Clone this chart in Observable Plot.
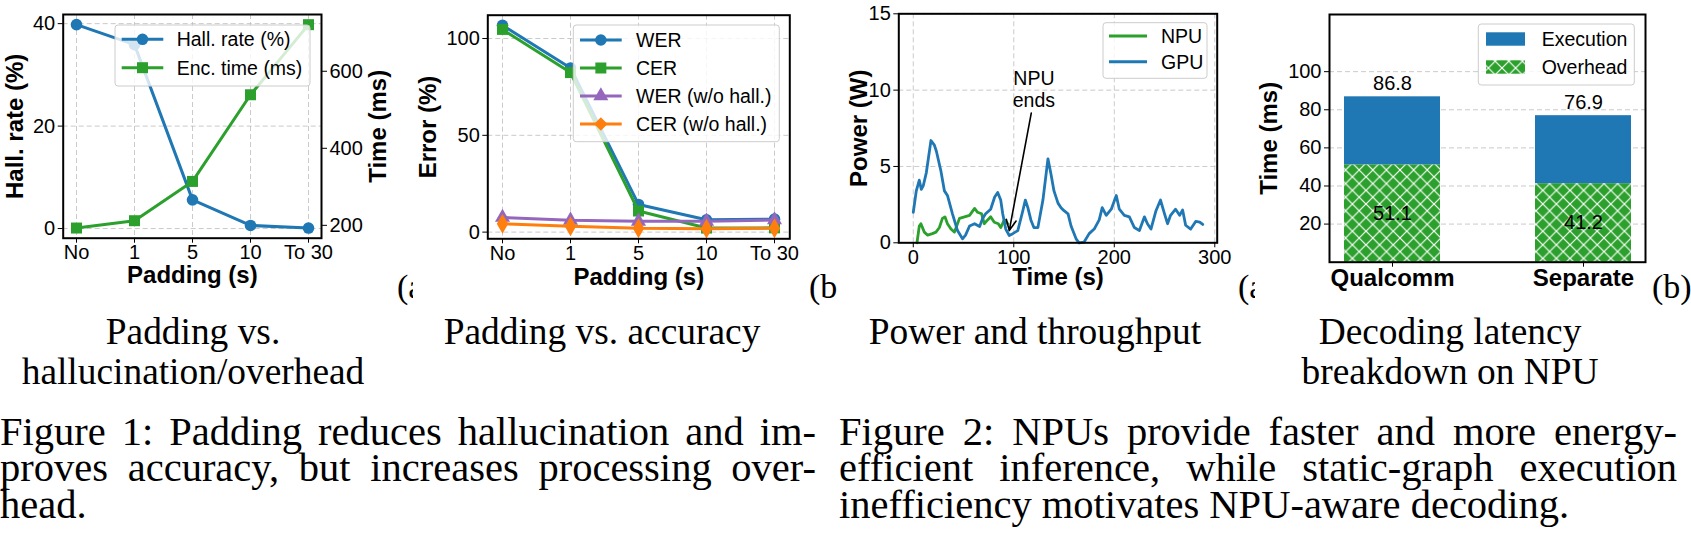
<!DOCTYPE html>
<html><head><meta charset="utf-8">
<script src="https://cdn.jsdelivr.net/npm/d3@7"></script>
<script src="https://cdn.jsdelivr.net/npm/@observablehq/plot@0.6"></script>
<style>
html,body{margin:0;padding:0;background:#fff;}
body{width:1691px;height:549px;position:relative;overflow:hidden;}
.panel{position:absolute;top:0;}
.panel svg{max-width:none;overflow:visible;}
.serif{position:absolute;font-family:"Liberation Serif","Times New Roman",serif;color:#000;white-space:nowrap;}
.clip{position:absolute;overflow:hidden;}
</style></head><body>
<div id="p1" class="panel" style="left:0px"></div>
<div id="p2" class="panel" style="left:400px"></div>
<div id="p3" class="panel" style="left:830px"></div>
<div id="p4" class="panel" style="left:1230px"></div>
<script>
// ---------------- data ----------------
const padCats = ["No", "1", "5", "10", "To 30"];
const hallRate = [39.8, 35.9, 5.6, 0.6, 0.1];
const encTime = [193, 212, 314, 539, 721];
const encTicks = [200, 400, 600];

const wer = [106.8, 84.8, 14.3, 6.4, 6.7];
const cer = [104.7, 82.4, 10.9, 2.1, 2.2];
const werNoHall = [7.6, 6.1, 5.6, 5.6, 6.3];
const cerNoHall = [4.3, 3.0, 2.0, 1.8, 2.0];

const npuTrace = [[3.7,0],[6,1.1],[7.6,1.25],[11,0.7],[14.3,0.5],[19,0.6],[22.6,0.7],[26,1.0],[29,1.6],[31.5,1.7],[34,1.25],[37.5,0.9],[41,0.7],[44,1.25],[46,1.6],[51,1.7],[56,1.8],[61,2.25],[64,2.0],[68,1.9],[70.6,1.25],[74,1.5],[77,1.7],[80.6,1.35],[84.6,1.25],[87,1.0],[90.6,1.5],[94,1.25]];
const gpuTrace = [[0,2.0],[3,3.4],[6,4.1],[8,3.5],[10,3.75],[13,4.6],[17.6,6.7],[21,6.4],[23,6.0],[27.5,4.7],[31,3.4],[34,3.1],[39,1.9],[44,0.8],[49,0.26],[52,0.5],[56,1.1],[61,1.25],[66,1.07],[69,1.6],[72,1.9],[77,2.2],[81,3.0],[84,3.3],[87,2.8],[89,1.9],[92,0.9],[95.5,0.48],[99,0.6],[104,0.8],[109,2.1],[111.5,2.8],[114,2.3],[117,1.5],[120,1.0],[124,1.0],[129,2.8],[134,5.5],[137,4.5],[140,3.4],[144,2.6],[147,2.3],[150,2.1],[154,1.9],[157,1.1],[162,0.26],[165,0],[170,0.05],[175,0.6],[180,0.9],[185,1.5],[188,2.3],[192,1.8],[197,2.2],[202,3.1],[205,2.2],[210,1.8],[215,1.7],[220,1.0],[225,0.8],[230,1.7],[233,1.25],[236.5,0.9],[241.5,2.1],[246,2.8],[250,1.9],[253,1.25],[256,1.8],[261,2.2],[265,1.8],[268,2.15],[271,1.15],[276,0.9],[281,1.4],[285,1.35],[288,1.2]];
const npuAnnotation = {label: "NPU\nends", textT: 120, textP: 10.1, tailT: 117.4, tailP: 8.5, headT: 95.5, headP: 0.8};

const platforms = ["Qualcomm", "Separate"];
const overheadMs = [51.1, 41.2];
const totalMs = [86.8, 76.9];

const subCaptions = [["Padding vs.", "hallucination/overhead"], ["Padding vs. accuracy"], ["Power and throughput"], ["Decoding latency", "breakdown on NPU"]];
const fig1Lines = ["Figure 1: Padding reduces hallucination and im-", "proves accuracy, but increases processing over-", "head."];
const fig2Lines = ["Figure 2: NPUs provide faster and more energy-", "efficient inference, while static-graph execution", "inefficiency motivates NPU-aware decoding."];

// ---------------- style ----------------
const FONT = "'Liberation Sans', Arial, Helvetica, sans-serif";
const BLUE = "#1f77b4", GREEN = "#2ca02c", PURPLE = "#9467bd", ORANGE = "#ff7f0e";
const GRID = {stroke: "#b8b8b8", strokeOpacity: 0.75, strokeDasharray: "5,3", strokeWidth: 1};
const TICK = 20, LEG = 19.5, LAB = 24;
const baseStyle = {fontFamily: FONT, fontSize: TICK + "px", color: "#000", background: "transparent", overflow: "visible"};
const mplDomain = v => { const lo = d3.min(v), hi = d3.max(v), m = (hi - lo) * 0.05; return [lo - m, hi + m]; };
const symbolOf = {circle: d3.symbolCircle, square: d3.symbolSquare, triangle: d3.symbolTriangle, diamond: d3.symbolDiamond2};
const labelY = (txt, anchor, dx) => Plot.text([txt], {frameAnchor: anchor, dx, rotate: -90, textAnchor: "middle", lineAnchor: "middle", fontWeight: "bold", fontSize: LAB});
const labelX = (txt, dy) => Plot.text([txt], {frameAnchor: "bottom", dy, textAnchor: "middle", lineAnchor: "middle", fontWeight: "bold", fontSize: LAB});

function legendMark(box, items) {
  return () => {
    const g = d3.create("svg:g");
    g.append("rect").attr("x", box.x).attr("y", box.y).attr("width", box.w).attr("height", box.h)
      .attr("rx", 3).attr("fill", "white").attr("fill-opacity", 0.8).attr("stroke", "#cccccc").attr("stroke-width", 1);
    for (const it of items) {
      if (it.patch) {
        g.append("rect").attr("x", box.hx0).attr("y", it.y - 6.7).attr("width", box.hx1 - box.hx0).attr("height", 13.4).attr("fill", it.patch);
      } else {
        g.append("line").attr("x1", box.hx0).attr("x2", box.hx1).attr("y1", it.y).attr("y2", it.y)
          .attr("stroke", it.color).attr("stroke-width", it.width || 3);
        if (it.symbol) g.append("path").attr("d", d3.symbol(symbolOf[it.symbol], it.size)())
          .attr("transform", `translate(${(box.hx0 + box.hx1) / 2},${it.y})`).attr("fill", it.color);
      }
      g.append("text").attr("x", box.tx).attr("y", it.y).attr("dy", "0.35em").attr("font-size", LEG)
        .attr("text-anchor", "start").attr("font-family", FONT).attr("fill", "#000").text(it.label);
    }
    return g.node();
  };
}

// ---------------- panel 1 ----------------
{
  const rows = padCats.map((c, i) => ({c, hall: hallRate[i], enc: encTime[i]}));
  const yL = mplDomain(hallRate), yR = mplDomain(encTime);
  const r2l = d3.scaleLinear().domain(yR).range(yL);
  const chart = Plot.plot({
    width: 420, height: 300, marginLeft: 62.7, marginRight: 99, marginTop: 14, marginBottom: 62.3,
    style: baseStyle,
    x: {type: "point", domain: padCats, padding: 0.2, label: null},
    y: {domain: yL, label: null},
    marks: [
      Plot.gridX(padCats, GRID),
      Plot.gridY([0, 20, 40], GRID),
      Plot.line(rows, {x: "c", y: "hall", stroke: BLUE, strokeWidth: 3}),
      Plot.dot(rows, {x: "c", y: "hall", fill: BLUE, r: 5.8, symbol: "circle"}),
      Plot.line(rows, {x: "c", y: d => r2l(d.enc), stroke: GREEN, strokeWidth: 3}),
      Plot.dot(rows, {x: "c", y: d => r2l(d.enc), fill: GREEN, r: 6.2, symbol: "square"}),
      Plot.axisX(padCats, {tickSize: 5, tickPadding: 2, label: null}),
      Plot.axisY([0, 20, 40], {anchor: "left", tickSize: 5, tickPadding: 3, label: null}),
      Plot.axisY(encTicks.map(r2l), {anchor: "right", tickSize: 5, tickPadding: 3, label: null, tickFormat: d => Math.round(r2l.invert(d))}),
      Plot.frame({stroke: "#000", strokeWidth: 2}),
      legendMark({x: 115, y: 25, w: 195, h: 61, hx0: 121.7, hx1: 163.3, tx: 176.7}, [
        {label: "Hall. rate (%)", y: 39.3, color: BLUE, symbol: "circle", size: Math.PI * 5.8 * 5.8},
        {label: "Enc. time (ms)", y: 67.7, color: GREEN, symbol: "square", size: Math.PI * 6.2 * 6.2}
      ]),
      labelY("Hall. rate (%)", "left", -47.7),
      labelY("Time (ms)", "right", 57),
      labelX("Padding (s)", 37.5)
    ]
  });
  document.getElementById("p1").append(chart);
}

// ---------------- panel 2 ----------------
{
  const series = [
    {name: "WER", vals: wer, color: BLUE, symbol: "circle", r: 5.8},
    {name: "CER", vals: cer, color: GREEN, symbol: "square", r: 6.2},
    {name: "WER (w/o hall.)", vals: werNoHall, color: PURPLE, symbol: "triangle", r: 5.6},
    {name: "CER (w/o hall.)", vals: cerNoHall, color: ORANGE, symbol: "diamond", r: 6.0}
  ];
  const yD = mplDomain([...wer, ...cer, ...werNoHall, ...cerNoHall]);
  const marks = [Plot.gridX(padCats, GRID), Plot.gridY([0, 50, 100], GRID)];
  for (const s of series) {
    const rows = padCats.map((c, i) => ({c, v: s.vals[i]}));
    marks.push(Plot.line(rows, {x: "c", y: "v", stroke: s.color, strokeWidth: 3}));
    marks.push(Plot.dot(rows, {x: "c", y: "v", fill: s.color, r: s.r, symbol: s.symbol}));
  }
  marks.push(
    Plot.axisX(padCats, {tickSize: 5, tickPadding: 2, label: null}),
    Plot.axisY([0, 50, 100], {anchor: "left", tickSize: 5, tickPadding: 3, label: null}),
    Plot.frame({stroke: "#000", strokeWidth: 2}),
    legendMark({x: 173.3, y: 25, w: 206, h: 116.7, hx0: 180, hx1: 221.7, tx: 236},
      series.map((s, i) => ({label: s.name, y: 40 + i * 28, color: s.color, symbol: s.symbol, size: Math.PI * s.r * s.r}))),
    labelY("Error (%)", "left", -59),
    labelX("Padding (s)", 38.4)
  );
  const chart = Plot.plot({
    width: 440, height: 300, marginLeft: 87.3, marginRight: 50.7, marginTop: 14.7, marginBottom: 61.7,
    style: baseStyle,
    x: {type: "point", domain: padCats, padding: 0.2, label: null},
    y: {domain: yD, label: null},
    marks
  });
  document.getElementById("p2").append(chart);
}

// ---------------- panel 3 ----------------
{
  const npu = npuTrace.map(([t, p]) => ({t, p}));
  const gpu = gpuTrace.map(([t, p]) => ({t, p}));
  const xD = mplDomain([0, ...gpuTrace.map(d => d[0])]);
  const chart = Plot.plot({
    width: 430, height: 300, marginLeft: 68.3, marginRight: 43.3, marginTop: 13.3, marginBottom: 57.7,
    style: baseStyle,
    x: {domain: xD, label: null},
    y: {domain: [0, 15], label: null},
    marks: [
      Plot.gridX([0, 100, 200, 300], GRID),
      Plot.gridY([0, 5, 10, 15], GRID),
      Plot.line(npu, {x: "t", y: "p", stroke: GREEN, strokeWidth: 2.8}),
      Plot.line(gpu, {x: "t", y: "p", stroke: BLUE, strokeWidth: 2.8}),
      Plot.arrow([npuAnnotation], {x1: "tailT", y1: "tailP", x2: "headT", y2: "headP", stroke: "#000", strokeWidth: 1.6, headLength: 11, headAngle: 50}),
      Plot.text([npuAnnotation], {x: "textT", y: "textP", text: "label", lineHeight: 1.15, fontSize: LEG, fill: "#000"}),
      Plot.axisX([0, 100, 200, 300], {tickSize: 5, tickPadding: 2, label: null}),
      Plot.axisY([0, 5, 10, 15], {anchor: "left", tickSize: 5, tickPadding: 3, label: null}),
      Plot.frame({stroke: "#000", strokeWidth: 2}),
      legendMark({x: 273, y: 22.7, w: 104, h: 55.6, hx0: 279, hx1: 317, tx: 331}, [
        {label: "NPU", y: 36, color: GREEN},
        {label: "GPU", y: 61.7, color: BLUE}
      ]),
      labelY("Power (W)", "left", -39),
      labelX("Time (s)", 34.4)
    ]
  });
  document.getElementById("p3").append(chart);
}

// ---------------- panel 4 ----------------
{
  const rows = platforms.map((p, i) => ({p, over: overheadMs[i], total: totalMs[i]}));
  const P = 13.6;
  const defs = () => {
    const d = d3.create("svg:defs");
    const pat = d.append("pattern").attr("id", "xhatch").attr("patternUnits", "userSpaceOnUse").attr("width", P).attr("height", P);
    pat.append("rect").attr("width", P).attr("height", P).attr("fill", GREEN);
    pat.append("path").attr("d", `M-1,-1L${P + 1},${P + 1}M${P + 1},-1L-1,${P + 1}`).attr("stroke", "white").attr("stroke-width", 1.2);
    return d.node();
  };
  const chart = Plot.plot({
    width: 461, height: 300, marginLeft: 99, marginRight: 46, marginTop: 14, marginBottom: 38.3,
    style: baseStyle,
    x: {type: "band", domain: platforms, paddingInner: 0.5, paddingOuter: 0.075, label: null},
    y: {domain: [0, 130], label: null},
    marks: [
      defs,
      Plot.gridY([20, 40, 60, 80, 100], GRID),
      Plot.barY(rows, {x: "p", y1: 0, y2: "over", fill: "url(#xhatch)"}),
      Plot.barY(rows, {x: "p", y1: "over", y2: "total", fill: BLUE}),
      Plot.text(rows, {x: "p", y: "total", text: d => d.total.toFixed(1), dy: -13.5, fontSize: TICK, lineAnchor: "middle", fill: "#000"}),
      Plot.text(rows, {x: "p", y: d => d.over / 2, text: d => d.over.toFixed(1), fontSize: TICK, lineAnchor: "middle", fill: "#000"}),
      Plot.axisX({tickSize: 5, tickPadding: 2, label: null, fontWeight: "bold", fontSize: LAB}),
      Plot.axisY([20, 40, 60, 80, 100], {anchor: "left", tickSize: 5, tickPadding: 3, label: null}),
      Plot.frame({stroke: "#000", strokeWidth: 2}),
      legendMark({x: 248.3, y: 24, w: 156, h: 61, hx0: 256, hx1: 295, tx: 311.7}, [
        {label: "Execution", y: 39, patch: BLUE},
        {label: "Overhead", y: 67, patch: "url(#xhatch)"}
      ]),
      labelY("Time (ms)", "left", -59.7)
    ]
  });
  document.getElementById("p4").append(chart);
}

// ---------------- text ----------------
function addLine(text, {left, width, cy, size, align, lh}) {
  const L = lh || size;
  const el = document.createElement("div");
  el.className = "serif";
  el.textContent = text;
  el.style.left = left + "px";
  el.style.width = width + "px";
  el.style.fontSize = size + "px";
  el.style.lineHeight = L + "px";
  el.style.top = (cy - 0.5 * L) + "px";
  el.style.textAlign = align;
  if (align === "justify") el.style.textAlignLast = "justify";
  document.body.append(el);
}
function addClipped(text, {left, clipWidth, cy, size}) {
  const c = document.createElement("div");
  c.className = "clip";
  c.style.left = left + "px"; c.style.top = (cy - size) + "px";
  c.style.width = clipWidth + "px"; c.style.height = (2 * size) + "px";
  const t = document.createElement("div");
  t.className = "serif"; t.textContent = text;
  t.style.left = "0px"; t.style.top = (size / 2) + "px";
  t.style.fontSize = size + "px"; t.style.lineHeight = size + "px";
  c.append(t);
  document.body.append(c);
}
const subCenters = [193, 602, 1035, 1450];
const SUB = 37.4;
subCaptions.forEach((lines, i) => lines.forEach((ln, j) =>
  addLine(ln, {left: subCenters[i] - 300, width: 600, cy: 332 + j * 40, size: SUB, align: "center", lh: 36})));
const CAP = 40.5;
fig1Lines.forEach((ln, j) => addLine(ln, {left: 0, width: 816, cy: 431.5 + j * 36.5, size: CAP, align: j < 2 ? "justify" : "left", lh: 34}));
fig2Lines.forEach((ln, j) => addLine(ln, {left: 839, width: 838, cy: 431.5 + j * 36.5, size: CAP, align: j < 2 ? "justify" : "left", lh: 34}));
addClipped("(a)", {left: 397, clipWidth: 16, cy: 287, size: 34});
addClipped("(b)", {left: 809, clipWidth: 28, cy: 287, size: 34});
addClipped("(a)", {left: 1238, clipWidth: 17, cy: 287, size: 34});
addClipped("(b)", {left: 1652, clipWidth: 39, cy: 287, size: 34});
</script>
</body></html>
